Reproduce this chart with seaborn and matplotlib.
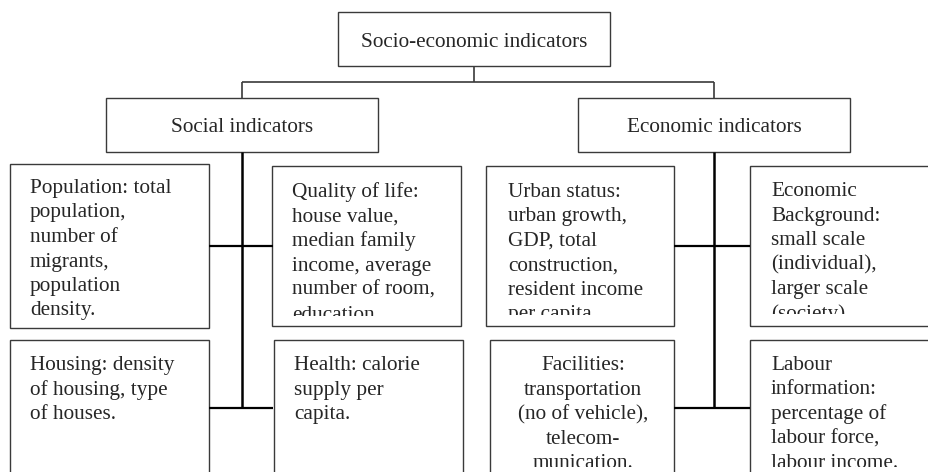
import matplotlib
matplotlib.use("Agg")
import matplotlib.pyplot as plt
from matplotlib.patches import Rectangle
import seaborn as sns

# box texts
root_label = "Socio-economic indicators"
branch_labels = ["Social indicators", "Economic indicators"]
leaf_labels = [
    ["Population: total", "population,", "number of", "migrants,", "population", "density."],
    ["Quality of life:", "house value,", "median family", "income, average", "number of room,", "education"],
    ["Urban status:", "urban growth,", "GDP, total", "construction,", "resident income", "per capita"],
    ["Economic", "Background:", "small scale", "(individual),", "larger scale", "(society)"],
    ["Housing: density", "of housing, type", "of houses."],
    ["Health: calorie", "supply per", "capita."],
    ["Facilities:", "transportation", "(no of vehicle),", "telecom-", "munication."],
    ["Labour", "information:", "percentage of", "labour force,", "labour income."],
]

# layout in pixels from the top (x0, y0, x1, y1), text x, first baseline, clip bottom, alignment
leaf_boxes = [
    (10, 164, 209, 328, 30, 193, 322, "left"),
    (272, 166, 461, 326, 292, 197, 316, "left"),
    (486, 166, 674, 326, 508, 197, 315, "left"),
    (750, 166, 960, 326, 771, 196, 314, "left"),
    (10, 340, 209, 500, 30, 370, 467, "left"),
    (274, 340, 463, 500, 294, 370, 467, "left"),
    (490, 340, 674, 500, 583, 370, 467, "center"),
    (750, 340, 960, 500, 771, 370, 467, "left"),
]
LINE_H = 24.5
H = 472

sns.set_style("white")
plt.rcParams["font.family"] = ["Liberation Serif", "DejaVu Serif"]
FS = 15.3
BOX_LW = 1.0
BOX_C = "#3a3a3a"

fig = plt.figure(figsize=(9.29, 4.72), dpi=100)
ax = fig.add_axes([0, 0, 1, 1])
ax.set_xlim(0, 929)
ax.set_ylim(0, H)
ax.axis("off")


def Y(y):
    return H - y


def box(x0, y0, x1, y1):
    ax.add_patch(Rectangle((x0, Y(y1)), x1 - x0, y1 - y0, fill=False,
                           edgecolor=BOX_C, linewidth=BOX_LW))


def line(xs, ys, **kw):
    ax.plot(xs, [Y(v) for v in ys], solid_capstyle="butt", **kw)


# root and branches
box(338, 12, 610, 66)
ax.text(474, Y(47), root_label, fontsize=FS, ha="center", va="baseline")
box(106, 98, 378, 152)
box(578, 98, 850, 152)
ax.text(242, Y(132), branch_labels[0], fontsize=FS, ha="center", va="baseline")
ax.text(714, Y(132), branch_labels[1], fontsize=FS, ha="center", va="baseline")

# thin connectors
line([474, 474], [66, 82], color=BOX_C, lw=1.2)
line([242, 714], [82, 82], color=BOX_C, lw=1.2)
line([242, 242], [82, 98], color=BOX_C, lw=1.2)
line([714, 714], [82, 98], color=BOX_C, lw=1.2)

# thick connectors
for cx, l, r in [(242, 209, 273), (714, 674, 750)]:
    line([cx, cx], [152, 408], color="black", lw=1.8)
    line([l, r], [246, 246], color="black", lw=1.6)
    line([l, r], [408, 408], color="black", lw=1.6)

# leaves, text cut off at the bottom of each box like the original
for lines, (x0, y0, x1, y1, tx, ty, clip_b, ha) in zip(leaf_labels, leaf_boxes):
    box(x0, y0, x1, y1)
    clip = Rectangle((x0, Y(clip_b)), x1 - x0, clip_b - y0, transform=ax.transData)
    for i, s in enumerate(lines):
        t = ax.text(tx, Y(ty + i * LINE_H), s, fontsize=FS, ha=ha, va="baseline",
                    clip_on=True)
        t.set_clip_path(clip)

fig.savefig("out.png", dpi=100)
